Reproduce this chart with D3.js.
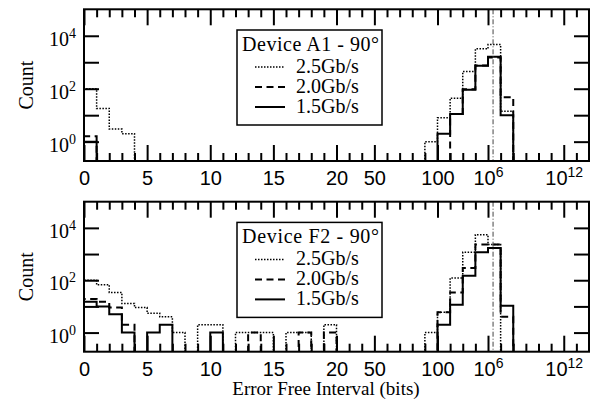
<!DOCTYPE html>
<html>
<head>
<meta charset="utf-8">
<script src="https://cdn.jsdelivr.net/npm/d3@7"></script>
<style>
  body { margin: 0; background: #fff; }
  svg { display: block; font-family: "Liberation Serif", "Times New Roman", serif; }
  .tick line { stroke: #000; stroke-width: 2; }
  .domain { display: none; }
</style>
</head>
<body>
<svg id="chart" width="594" height="403"></svg>
<script>
// x axis is the histogram bin index; bins 0..20 are counts of bits,
// after that the bins get coarser (50, 100, then decades)
var nBins = 40;
var majorBins = [0, 5, 10, 15, 20, 23, 28, 32, 38];
var majorLabels = ['0', '5', '10', '15', '20', '50', '100', '10^6', '10^12'];
var yTicks = [1, 10, 100, 1e3, 1e4];
var yLabelTicks = [1, 100, 1e4];
var rates = ['2.5Gb/s', '2.0Gb/s', '1.5Gb/s'];
var markerBin = 32.4;   // dash-dot reference line

// Device A1 - 90°
var a1_25 = [100, 18, 3, 2, 0, 0, 0, 0, 0, 0, 0, 0, 0, 0, 0, 0, 0, 0, 0, 0,
             0, 0, 0, 0, 0, 0, 0, 1, 8, 44, 450, 3200, 4700, 14, 0, 0, 0, 0, 0, 0];
var a1_20 = [1.6, 0, 0, 0, 0, 0, 0, 0, 0, 0, 0, 0, 0, 0, 0, 0, 0, 0, 0, 0,
             0, 0, 0, 0, 0, 0, 0, 0, 0, 11, 95, 760, 1500, 48, 0, 0, 0, 0, 0, 0];
var a1_15 = [1, 0, 0, 0, 0, 0, 0, 0, 0, 0, 0, 0, 0, 0, 0, 0, 0, 0, 0, 0,
             0, 0, 0, 0, 0, 0, 0, 0, 2, 11, 92, 740, 1600, 10, 0, 0, 0, 0, 0, 0];

// Device F2 - 90°
var f2_25 = [100, 67, 34, 13, 9, 5.5, 4, 1, 0, 2, 2, 0, 1, 1, 1, 0, 1, 1, 0, 2,
             0, 0, 0, 0, 0, 0, 0, 1, 6, 121, 1170, 5500, 2300, 0, 0, 0, 0, 0, 0, 0];
var f2_20 = [19, 15, 9, 2, 0, 0, 0, 0, 0, 0, 0, 0, 0, 1, 0, 0, 0, 1, 0, 1,
             0, 0, 0, 0, 0, 0, 0, 0, 6, 34, 293, 2300, 2300, 4, 0, 0, 0, 0, 0, 0];
var f2_15 = [15, 10, 5, 1, 0, 1, 2, 0, 0, 0, 1, 0, 0, 0, 0, 0, 0, 0, 0, 0,
             0, 0, 0, 0, 0, 0, 0, 0, 2, 11.5, 148, 1170, 1700, 10.5, 0, 0, 0, 0, 0, 0];

var svg = d3.select('#chart');
var left = 84, right = 589;
var fontSize = 20;

var styles = [
  {dash: '1.5,1.5', width: 1.5},
  {dash: '7,4.5', width: 2},
  {dash: null, width: 2}
];

var panels = [
  {top: 9.3, bottom: 161, title: 'Device A1 - 90°', series: [a1_25, a1_20, a1_15]},
  {top: 201.7, bottom: 351.7, title: 'Device F2 - 90°', series: [f2_25, f2_20, f2_15]}
];

var x = d3.scaleLinear().domain([0, nBins]).range([left, right]);

function supLabel(sel, label) {
  var parts = label.split('^');
  sel.text(null);
  sel.append('tspan').text(parts[0]);
  if (parts.length > 1) {
    sel.append('tspan')
      .attr('dy', -8)
      .attr('font-size', 14)
      .text(parts[1]);
  }
}

function stepPoints(vals) {
  var floor = 0.01;
  var pts = [[0, floor]];
  vals.forEach(function(v, i) {
    var h = v > 0 ? v : floor;
    pts.push([i, h], [i + 1, h]);
  });
  pts.push([nBins, floor]);
  return pts;
}

// ticks only, no labels
function bareTicks(sel) {
  sel.selectAll('text').remove();
}

panels.forEach(function(p, pi) {
  var y = d3.scaleLog().domain([0.186, 1e5]).range([p.bottom, p.top]);
  var g = svg.append('g');
  var clipId = 'clip' + pi;

  svg.append('clipPath').attr('id', clipId)
    .append('rect')
    .attr('x', left).attr('y', p.top)
    .attr('width', right - left).attr('height', p.bottom - p.top);

  // histograms
  var line = d3.line()
    .x(function(d) { return x(d[0]); })
    .y(function(d) { return y(d[1]); });

  var hist = g.append('g').attr('clip-path', 'url(#' + clipId + ')');
  p.series.forEach(function(vals, si) {
    hist.append('path')
      .attr('d', line(stepPoints(vals)))
      .attr('fill', 'none')
      .attr('stroke', '#000')
      .attr('stroke-width', styles[si].width)
      .attr('stroke-dasharray', styles[si].dash);
  });

  // reference line
  hist.append('line')
    .attr('x1', x(markerBin)).attr('x2', x(markerBin))
    .attr('y1', p.top).attr('y2', p.bottom)
    .attr('stroke', '#444')
    .attr('stroke-width', 1)
    .attr('stroke-dasharray', '5,2,1,2');

  // axes (ticks pointing inward)
  var minorBins = d3.range(1, nBins).filter(function(b) { return majorBins.indexOf(b) < 0; });

  g.append('g').attr('transform', 'translate(0,' + p.bottom + ')')
    .call(d3.axisBottom(x).tickValues(minorBins).tickSize(-8).tickFormat(''))
    .call(bareTicks);
  g.append('g').attr('transform', 'translate(0,' + p.top + ')')
    .call(d3.axisTop(x).tickValues(minorBins).tickSize(-8).tickFormat(''))
    .call(bareTicks);
  g.append('g').attr('transform', 'translate(0,' + p.top + ')')
    .call(d3.axisTop(x).tickValues(majorBins).tickSize(-16).tickFormat(''))
    .call(bareTicks);

  var xAx = g.append('g').attr('transform', 'translate(0,' + p.bottom + ')')
    .call(d3.axisBottom(x).tickValues(majorBins).tickSize(-16)
      .tickFormat(function(d, i) { return majorLabels[i]; }));
  xAx.selectAll('text')
    .attr('y', 24).attr('dy', null)
    .attr('font-size', fontSize)
    .attr('fill', '#000')
    .each(function(d, i) { supLabel(d3.select(this), majorLabels[i]); });

  g.append('g').attr('transform', 'translate(' + left + ',0)')
    .call(d3.axisLeft(y).tickValues(yTicks).tickSize(-15).tickFormat(''))
    .call(bareTicks);
  g.append('g').attr('transform', 'translate(' + right + ',0)')
    .call(d3.axisRight(y).tickValues(yTicks).tickSize(-15).tickFormat(''))
    .call(bareTicks);

  yLabelTicks.forEach(function(v) {
    var t = g.append('text')
      .attr('x', 76).attr('y', y(v) + 10)
      .attr('text-anchor', 'end')
      .attr('font-size', fontSize);
    supLabel(t, '10^' + Math.round(Math.log10(v)));
  });

  // frame
  g.append('rect')
    .attr('x', left).attr('y', p.top)
    .attr('width', right - left).attr('height', p.bottom - p.top)
    .attr('fill', 'none').attr('stroke', '#000').attr('stroke-width', 2);

  g.append('text')
    .attr('transform', 'translate(33,' + ((p.top + p.bottom) / 2) + ') rotate(-90)')
    .attr('text-anchor', 'middle')
    .attr('font-size', fontSize)
    .text('Count');

  // legend
  var lx = 237, ly = p.top + 20.7, lw = 145, lh = 95;
  var leg = g.append('g');
  leg.append('rect')
    .attr('x', lx).attr('y', ly).attr('width', lw).attr('height', lh)
    .attr('fill', '#fff').attr('stroke', '#000').attr('stroke-width', 1.5);
  leg.append('text')
    .attr('x', lx + 5).attr('y', ly + 20.5)
    .attr('font-size', fontSize)
    .attr('textLength', 137)
    .attr('lengthAdjust', 'spacing')
    .text(p.title);
  rates.forEach(function(r, i) {
    var by = ly + 42.5 + i * 20;
    leg.append('line')
      .attr('x1', 255).attr('x2', 285)
      .attr('y1', by - 5.5).attr('y2', by - 5.5)
      .attr('stroke', '#000')
      .attr('stroke-width', styles[i].width)
      .attr('stroke-dasharray', styles[i].dash);
    leg.append('text')
      .attr('x', 296).attr('y', by)
      .attr('font-size', fontSize)
      .text(r);
  });
});

svg.append('text')
  .attr('x', 326).attr('y', 395)
  .attr('text-anchor', 'middle')
  .attr('font-size', 19)
  .text('Error Free Interval (bits)');
</script>
</body>
</html>
